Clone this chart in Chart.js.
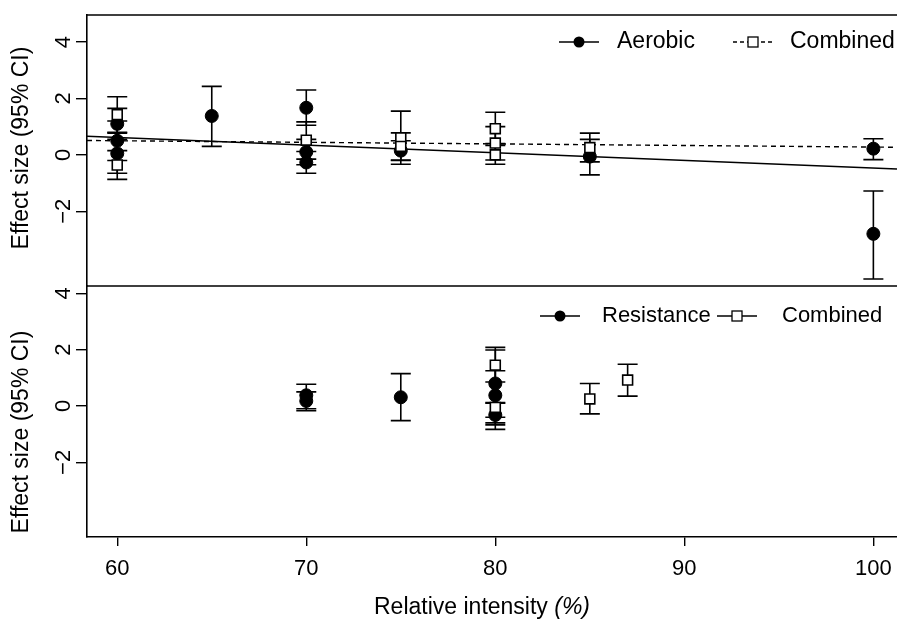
<!DOCTYPE html>
<html>
<head>
<meta charset="utf-8">
<script src="https://cdn.jsdelivr.net/npm/chart.js@4.4.0/dist/chart.umd.min.js"></script>
<style>
  body { margin: 0; background: #fff; }
  #wrap { position: relative; width: 897px; height: 621px; overflow: hidden; }
  canvas { position: absolute; left: 0; }
</style>
</head>
<body>
<div id="wrap">
  <canvas id="topChart" width="897" height="287" style="top:0"></canvas>
  <canvas id="bottomChart" width="897" height="341" style="top:280px"></canvas>
</div>
<script>
const FONT = '"Liberation Sans", Arial, Helvetica, sans-serif';

const xTicks = [60, 70, 80, 90, 100];
const yTicks = [-2, 0, 2, 4];
const yTickLabels = ['\u22122', '0', '2', '4'];
const xRange = [58.4, 101.25];

// top panel: aerobic (filled) vs combined (open)
const aerobicX  = [60, 60, 60, 65, 70, 70, 70, 75, 85, 100, 100];
const aerobicES = [1.1, 0.5, 0.05, 1.38, 1.67, 0.1, -0.27, 0.15, -0.06, 0.22, -2.8];
const aerobicLo = [0.55, -0.2, -0.65, 0.3, 1.05, -0.35, -0.65, -0.2, -0.71, -0.17, -4.4];
const aerobicHi = [1.65, 1.2, 0.77, 2.43, 2.3, 0.55, 0.12, 0.5, 0.55, 0.57, -1.28];

const combTopX  = [60, 60, 70, 75, 75, 80, 80, 80, 85];
const combTopES = [1.43, -0.36, 0.52, 0.6, 0.3, 0.93, 0.42, 0.0, 0.26];
const combTopLo = [0.8, -0.87, -0.15, -0.33, -0.18, 0.4, -0.18, -0.33, -0.25];
const combTopHi = [2.06, 0.15, 1.17, 1.55, 0.78, 1.51, 1.0, 0.33, 0.77];

// fitted lines, value at left and right edge of the plot
const aerobicFit  = [0.66, -0.5];
const combinedFit = [0.51, 0.27];

// bottom panel: resistance (filled) vs combined (open)
const resistX  = [70, 70, 75, 80, 80, 80];
const resistES = [0.38, 0.18, 0.31, 0.8, 0.38, -0.32];
const resistLo = [-0.1, -0.17, -0.52, -0.4, -0.67, -0.83];
const resistHi = [0.77, 0.5, 1.15, 1.99, 1.25, 0.12];

const combBotX  = [80, 80, 85, 87];
const combBotES = [1.45, -0.05, 0.25, 0.92];
const combBotLo = [0.85, -0.6, -0.28, 0.35];
const combBotHi = [2.08, 0.1, 0.8, 1.48];

function pts(xs, ys) { return xs.map((x, i) => ({ x: x, y: ys[i] })); }

function circles(xs, ys, lo, hi) {
  return { data: pts(xs, ys), errLo: lo, errHi: hi, pointStyle: 'circle', pointRadius: 6.5,
    backgroundColor: '#000', borderColor: '#000', borderWidth: 1, order: 2 };
}
function squares(xs, ys, lo, hi) {
  return { data: pts(xs, ys), errLo: lo, errHi: hi, pointStyle: 'rect', pointRadius: 7,
    backgroundColor: '#fff', borderColor: '#000', borderWidth: 1.6, order: 1 };
}
function fitLine(ys, dash) {
  return { data: pts(xRange, ys), showLine: true, pointRadius: 0, borderColor: '#000',
    borderWidth: 1.4, borderDash: dash, order: 3 };
}

function yAxis(min, max) {
  return {
    type: 'linear', min: min, max: max,
    afterBuildTicks: s => { s.ticks = yTicks.map(v => ({ value: v })); },
    afterFit: s => { s.width = 87; },
    ticks: { display: false },
    grid: { drawOnChartArea: false, drawTicks: true, tickLength: 11, color: '#000', lineWidth: 1.4 },
    border: { display: true, color: '#000', width: 1.6 }
  };
}

// error bars, rotated y labels, frame, legend and titles
const panelDecor = {
  id: 'panelDecor',
  beforeDatasetsDraw(chart) {
    const ctx = chart.ctx, xs = chart.scales.x, ys = chart.scales.y;
    ctx.save();
    ctx.strokeStyle = '#000';
    ctx.lineWidth = 1.6;
    chart.data.datasets.forEach(ds => {
      if (!ds.errLo) return;
      ds.data.forEach((p, i) => {
        const px = xs.getPixelForValue(p.x);
        const y1 = ys.getPixelForValue(ds.errLo[i]);
        const y2 = ys.getPixelForValue(ds.errHi[i]);
        ctx.beginPath();
        ctx.moveTo(px, y1); ctx.lineTo(px, y2);
        ctx.moveTo(px - 10, y1); ctx.lineTo(px + 10, y1);
        ctx.moveTo(px - 10, y2); ctx.lineTo(px + 10, y2);
        ctx.stroke();
      });
    });
    ctx.restore();
  },
  afterDraw(chart, args, opts) {
    const ctx = chart.ctx, ys = chart.scales.y, a = chart.chartArea;
    ctx.save();
    ctx.fillStyle = '#000';
    ctx.strokeStyle = '#000';
    ctx.font = '22px ' + FONT;
    ctx.textAlign = 'center';
    ctx.textBaseline = 'middle';
    yTicks.forEach((v, i) => {
      ctx.save();
      ctx.translate(64, ys.getPixelForValue(v));
      ctx.rotate(-Math.PI / 2);
      ctx.fillText(yTickLabels[i], 0, 0);
      ctx.restore();
    });
    ctx.save();
    ctx.font = '23px ' + FONT;
    ctx.translate(22, opts.titleY);
    ctx.rotate(-Math.PI / 2);
    ctx.fillText('Effect size (95% CI)', 0, 0);
    ctx.restore();

    // frame lines
    ctx.lineWidth = 1.6;
    ctx.beginPath();
    if (opts.frameTop) { ctx.moveTo(a.left, a.top); ctx.lineTo(a.right, a.top); }
    if (opts.frameBottom) { ctx.moveTo(a.left, a.bottom); ctx.lineTo(a.right, a.bottom); }
    ctx.stroke();

    // legend
    const ly = a.top + opts.legendDy;
    ctx.font = opts.legendSize + 'px ' + FONT;
    opts.legend.forEach(it => {
      ctx.lineWidth = 1.5;
      ctx.setLineDash(it.dash ? [4, 3] : []);
      ctx.beginPath();
      ctx.moveTo(it.sx - 20, ly); ctx.lineTo(it.sx + 20, ly);
      ctx.stroke();
      ctx.setLineDash([]);
      if (it.kind === 'circle') {
        ctx.beginPath(); ctx.arc(it.sx, ly, 5.5, 0, Math.PI * 2); ctx.fill();
      } else {
        ctx.fillStyle = '#fff';
        ctx.fillRect(it.sx - 5, ly - 5, 10, 10);
        ctx.fillStyle = '#000';
        ctx.lineWidth = 1.3;
        ctx.strokeRect(it.sx - 5, ly - 5, 10, 10);
      }
      ctx.textAlign = 'left';
      ctx.fillText(it.text, it.tx, ly);
    });

    if (opts.xTitle) {
      const cx = (a.left + a.right) / 2 + opts.xTitleDx;
      const t1 = 'Relative intensity ', t2 = '(%)';
      ctx.font = '23px ' + FONT;
      const w1 = ctx.measureText(t1).width;
      ctx.font = 'italic 23px ' + FONT;
      const w2 = ctx.measureText(t2).width;
      const x0 = cx - (w1 + w2) / 2;
      ctx.textAlign = 'left';
      ctx.font = '23px ' + FONT;
      ctx.fillText(t1, x0, opts.xTitleY);
      ctx.font = 'italic 23px ' + FONT;
      ctx.fillText(t2, x0 + w1, opts.xTitleY);
    }
    ctx.restore();
  }
};

Chart.defaults.animation = false;

new Chart(document.getElementById('topChart'), {
  type: 'scatter',
  data: {
    datasets: [
      squares(combTopX, combTopES, combTopLo, combTopHi),
      circles(aerobicX, aerobicES, aerobicLo, aerobicHi),
      fitLine(aerobicFit, []),
      fitLine(combinedFit, [5, 4])
    ]
  },
  options: {
    responsive: false,
    layout: { autoPadding: false, padding: { top: 15, bottom: 1, left: 0, right: 0 } },
    plugins: {
      legend: { display: false },
      tooltip: { enabled: false },
      panelDecor: {
        titleY: 148, frameTop: true, frameBottom: true, legendDy: 27, legendSize: 23,
        legend: [
          { sx: 579, kind: 'circle', dash: false, text: 'Aerobic', tx: 617 },
          { sx: 753, kind: 'square', dash: true, text: 'Combined', tx: 790 }
        ]
      }
    },
    scales: {
      x: { type: 'linear', display: false, min: xRange[0], max: xRange[1] },
      y: yAxis(-4.65, 4.96)
    }
  },
  plugins: [panelDecor]
});

new Chart(document.getElementById('bottomChart'), {
  type: 'scatter',
  data: {
    datasets: [
      squares(combBotX, combBotES, combBotLo, combBotHi),
      circles(resistX, resistES, resistLo, resistHi)
    ]
  },
  options: {
    responsive: false,
    layout: { autoPadding: false, padding: { top: 6, bottom: 0, left: 0, right: 0 } },
    plugins: {
      legend: { display: false },
      tooltip: { enabled: false },
      panelDecor: {
        titleY: 152, frameTop: false, frameBottom: false, legendDy: 30, legendSize: 22,
        xTitle: true, xTitleY: 328, xTitleDx: -10,
        legend: [
          { sx: 560, kind: 'circle', dash: false, text: 'Resistance', tx: 602 },
          { sx: 737, kind: 'square', dash: false, text: 'Combined', tx: 782 }
        ]
      }
    },
    scales: {
      x: {
        type: 'linear', min: xRange[0], max: xRange[1],
        afterBuildTicks: s => { s.ticks = xTicks.map(v => ({ value: v })); },
        afterFit: s => { s.height = 84; s.paddingLeft = 0; s.paddingRight = 0; },
        ticks: { color: '#000', font: { family: FONT, size: 22 }, padding: 10, maxRotation: 0, autoSkip: false },
        grid: { drawOnChartArea: false, drawTicks: true, tickLength: 9, color: '#000', lineWidth: 1.4 },
        border: { display: true, color: '#000', width: 1.6 }
      },
      y: yAxis(-4.65, 4.26)
    }
  },
  plugins: [panelDecor]
});
</script>
</body>
</html>
